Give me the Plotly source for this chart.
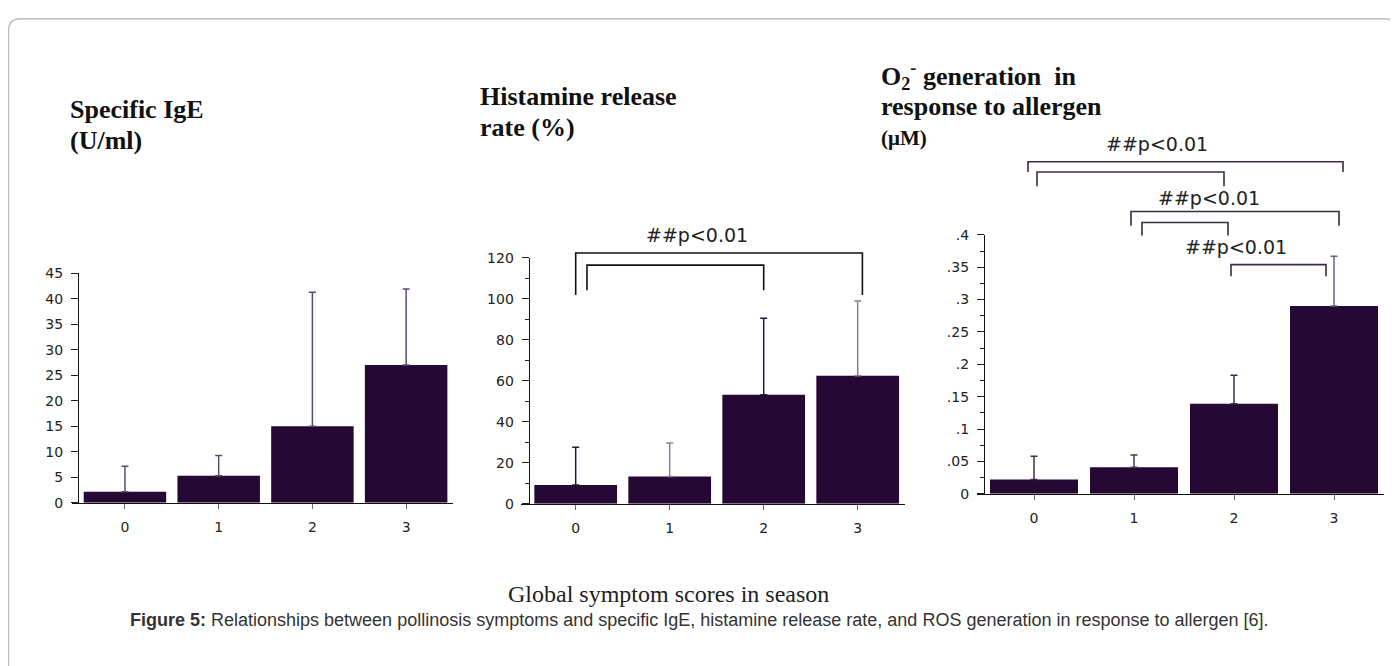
import plotly.graph_objects as go

# page is drawn with an 8px body margin, so the figure is offset by (8, 8)
OX, OY = 8, 8
FW, FH = 1390, 658

# ---------------- data ----------------
scores = [0, 1, 2, 3]
score_labels = ["0", "1", "2", "3"]

ige_mean = [2.2, 5.3, 15.0, 27.0]
ige_sd = [5.0, 4.0, 26.3, 14.9]

hist_mean = [9.2, 13.3, 53.3, 62.5]
hist_sd = [18.4, 16.4, 37.3, 36.5]

ros_mean = [0.022, 0.041, 0.139, 0.290]
ros_sd = [0.036, 0.019, 0.044, 0.077]

ige_ticks = [0, 5, 10, 15, 20, 25, 30, 35, 40, 45]
hist_ticks = [0, 20, 40, 60, 80, 100, 120]
ros_ticks = [0, 0.05, 0.1, 0.15, 0.2, 0.25, 0.3, 0.35, 0.4]
ros_ticktext = ["0", ".05", ".1", ".15", ".2", ".25", ".3", ".35", ".4"]

sig_label = "##p<0.01"
# brackets: (x_left, x_right, y_top, y_bottom) in data units
hist_brackets = [(0.0, 3.05, 122.4, 101.9), (0.12, 2.0, 116.5, 104.3)]
hist_texts = [(1.29, 131.0)]
ros_brackets = [(-0.06, 3.09, 0.513, 0.497), (0.03, 1.9, 0.497, 0.475),
                (0.97, 3.05, 0.436, 0.414), (1.08, 1.94, 0.419, 0.399),
                (1.97, 2.92, 0.354, 0.336)]
ros_texts = [(1.23, 0.540), (1.75, 0.457), (2.02, 0.381)]

# ---------------- style ----------------
BAR = "#250833"
ERR1 = ["#5d4a6d", "#5d4a6d", "#5d4a6d", "#5d4a6d"]
ERR2 = ["#2a1238", "#8b7c98", "#2a1238", "#8b7c98"]
ERR3 = ["#3e2b4e", "#4a3a5a", "#3e2b4e", "#6f5e80"]
TICKFONT = dict(family="DejaVu Sans", size=14, color="#222222")
SERIF = "Liberation Serif"


def px(x):
    return (x - OX) / FW


def py(y):
    return 1 - (y - OY) / FH


panels = [
    dict(mean=ige_mean, sd=ige_sd, err=ERR1, xr=[-0.565, 3.5], xd=[px(72), px(453)],
         yr=[0, 45], yd=[py(507), py(271.7)], ypos=px(78)),
    dict(mean=hist_mean, sd=hist_sd, err=ERR2, xr=[-0.585, 3.5], xd=[px(520.7), px(904.7)],
         yr=[0, 120], yd=[py(508), py(256)], ypos=px(528.7)),
    dict(mean=ros_mean, sd=ros_sd, err=ERR3, xr=[-0.573, 3.5], xd=[px(976.7), px(1384)],
         yr=[0, 0.4], yd=[py(497.7), py(232.3)], ypos=px(984)),
]

fig = go.Figure()
layout = dict(
    width=FW, height=FH, margin=dict(l=0, r=0, t=0, b=0),
    paper_bgcolor="white", plot_bgcolor="white", showlegend=False,
    barmode="overlay",
)

for i, p in enumerate(panels, start=1):
    xa = "x" if i == 1 else f"x{i}"
    ya = "y" if i == 1 else f"y{i}"
    for k in range(len(scores)):
        fig.add_trace(go.Bar(
            x=[scores[k]], y=[p["mean"][k]], width=0.88,
            marker=dict(color=BAR, line=dict(width=0)),
            error_y=dict(type="data", symmetric=False, array=[p["sd"][k]], arrayminus=[0],
                         color=p["err"][k], thickness=1.5, width=3.5),
            xaxis=xa, yaxis=ya, hoverinfo="skip",
        ))
    xkey = "xaxis" if i == 1 else f"xaxis{i}"
    ykey = "yaxis" if i == 1 else f"yaxis{i}"
    layout[xkey] = dict(
        domain=p["xd"], range=p["xr"], anchor=ya,
        tickmode="array", tickvals=scores, ticktext=score_labels,
        showline=True, linecolor="#111111", linewidth=1.2,
        ticks="outside", ticklen=5, tickcolor="#666666", tickwidth=1,
        showgrid=False, zeroline=False, tickfont=TICKFONT, ticklabelstandoff=6,
    )
    yax = dict(
        domain=p["yd"], range=p["yr"], anchor="free", position=p["ypos"],
        showline=True, linecolor="#111111", linewidth=1.2,
        ticks="outside", ticklen=7, tickcolor="#222222", tickwidth=1,
        showgrid=False, zeroline=False, tickfont=TICKFONT, ticklabelstandoff=5,
    )
    if i == 1:
        yax.update(tickmode="array", tickvals=ige_ticks)
    elif i == 2:
        yax.update(tickmode="array", tickvals=hist_ticks,
                   minor=dict(dtick=10, ticklen=4, ticks="outside", tickcolor="#222222"))
    else:
        yax.update(tickmode="array", tickvals=ros_ticks, ticktext=ros_ticktext,
                   minor=dict(dtick=0.025, ticklen=4, ticks="outside", tickcolor="#222222"))
    layout[ykey] = yax

fig.update_layout(**layout)

shapes = []
annotations = []


def add_brackets(i, brackets, texts, col):
    p = panels[i - 1]
    xa = "x" if i == 1 else f"x{i}"
    ya = "y" if i == 1 else f"y{i}"
    x0r, x1r = p["xr"]
    y0r, y1r = p["yr"]
    fx = lambda v: (v - x0r) / (x1r - x0r)
    fy = lambda v: (v - y0r) / (y1r - y0r)
    for (xl, xr_, yt, yb) in brackets:
        path = (f"M {fx(xl)},{fy(yb)} L {fx(xl)},{fy(yt)} "
                f"L {fx(xr_)},{fy(yt)} L {fx(xr_)},{fy(yb)}")
        shapes.append(dict(type="path", path=path, xref=f"{xa} domain", yref=f"{ya} domain",
                           line=dict(color=col, width=1.6)))
    for (tx, ty) in texts:
        annotations.append(dict(text=sig_label, x=fx(tx), y=fy(ty),
                                xref=f"{xa} domain", yref=f"{ya} domain",
                                showarrow=False, xanchor="center", yanchor="middle",
                                font=dict(family="DejaVu Sans", size=19, color="#222222")))


add_brackets(2, hist_brackets, hist_texts, "#111111")
add_brackets(3, ros_brackets, ros_texts, "#3a2a4a")


def title(text, x, y, size=26):
    annotations.append(dict(text=text, x=px(x), y=py(y), xref="paper", yref="paper",
                            showarrow=False, xanchor="left", yanchor="middle", align="left",
                            font=dict(family=SERIF, size=size, color="#111111")))


title("<b>Specific IgE</b>", 68, 104)
title("<b>(U/ml)</b>", 68, 136)
title("<b>Histamine release</b>", 478, 90)
title("<b>rate (%)</b>", 478, 122)
title("<b>O<sub>2</sub><sup>-</sup> generation  in</b>", 879, 70)
title("<b>response to allergen</b>", 879, 101)
title("<b>(μM)</b>", 879, 133, size=21)

annotations.append(dict(text="Global symptom scores in season", x=px(831), y=py(600),
                        xref="paper", yref="paper", showarrow=False,
                        xanchor="right", yanchor="middle",
                        font=dict(family=SERIF, size=24, color="#222222")))
annotations.append(dict(text="<b>Figure 5:</b> Relationships between pollinosis symptoms and specific IgE, "
                             "histamine release rate, and ROS generation in response to allergen [6].",
                        x=px(699), y=py(627), xref="paper", yref="paper", showarrow=False,
                        xanchor="center", yanchor="middle",
                        font=dict(family="Liberation Sans", size=18, color="#333333")))

# rounded frame
r = 12
frame = (f"M {px(8.5)},{py(690)} L {px(8.5)},{py(10.7 + r)} "
         f"Q {px(8.5)},{py(10.7)} {px(8.5 + r)},{py(10.7)} "
         f"L {px(1396 - r)},{py(10.7)} Q {px(1396)},{py(10.7)} {px(1396)},{py(10.7 + r)} "
         f"L {px(1396)},{py(690)}")
shapes.append(dict(type="path", path=frame, xref="paper", yref="paper",
                   line=dict(color="#bdbdbd", width=1.5)))

fig.update_layout(shapes=shapes, annotations=annotations)
fig.write_html("out.html")
